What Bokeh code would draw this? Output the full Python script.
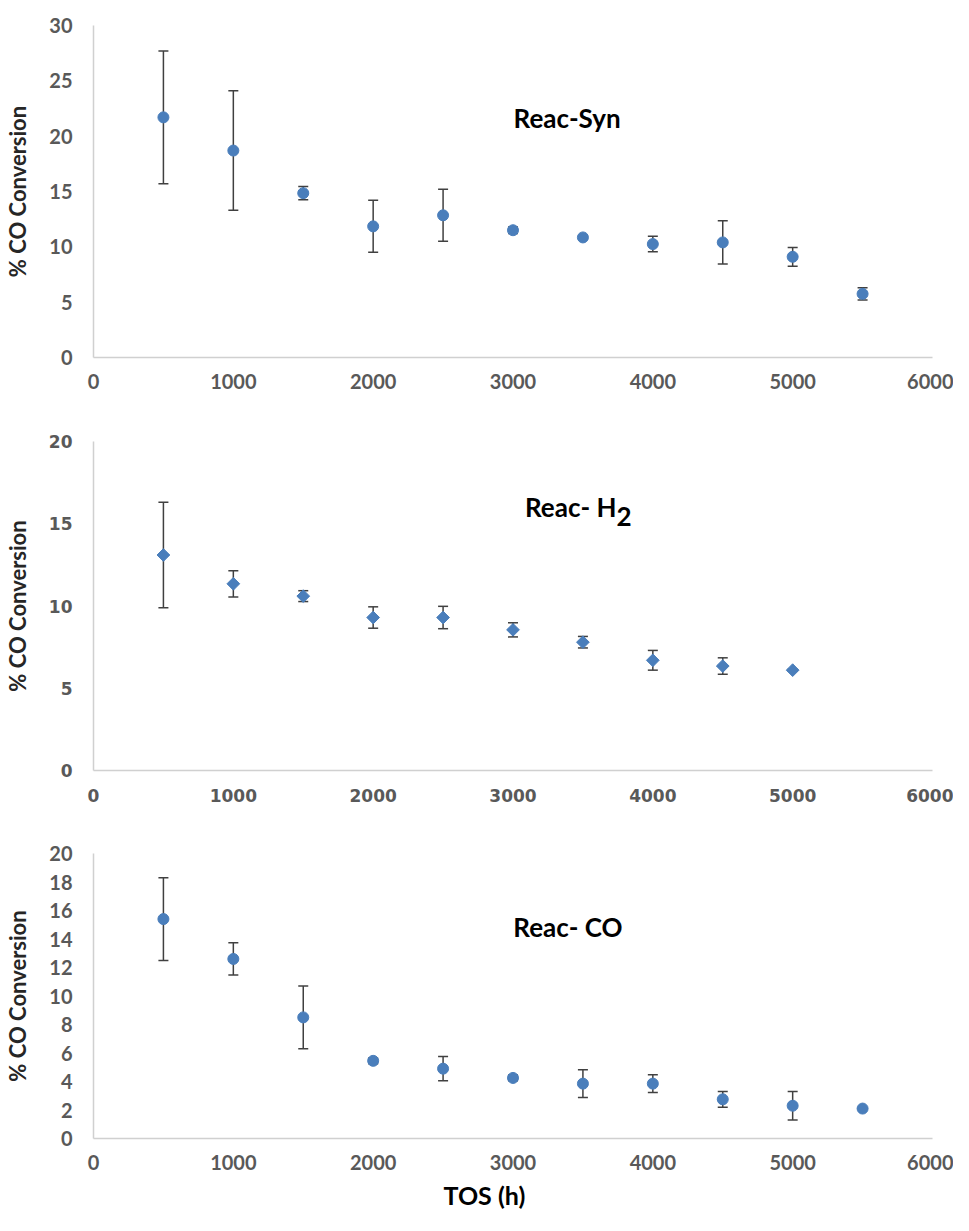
import math
from bokeh.plotting import figure
from bokeh.layouts import column
from bokeh.models import (Range1d, SingleIntervalTicker, Whisker, TeeHead,
                          ColumnDataSource, Label, Title)
from bokeh.embed import file_html
from bokeh.resources import INLINE

# ---------------- data ----------------
tos_syn = [500, 1000, 1500, 2000, 2500, 3000, 3500, 4000, 4500, 5000, 5500]
conv_syn = [21.7, 18.7, 14.85, 11.85, 12.85, 11.5, 10.85, 10.25, 10.4, 9.1, 5.75]
err_syn = [6.0, 5.4, 0.6, 2.35, 2.35, 0.3, 0.1, 0.7, 1.95, 0.85, 0.55]

tos_h2 = [500, 1000, 1500, 2000, 2500, 3000, 3500, 4000, 4500, 5000]
conv_h2 = [13.1, 11.35, 10.6, 9.3, 9.3, 8.55, 7.8, 6.7, 6.35, 6.1]
err_h2 = [3.2, 0.8, 0.33, 0.65, 0.68, 0.43, 0.35, 0.6, 0.5, 0.05]

tos_co = [500, 1000, 1500, 2000, 2500, 3000, 3500, 4000, 4500, 5000, 5500]
conv_co = [15.4, 12.6, 8.5, 5.45, 4.9, 4.25, 3.85, 3.85, 2.75, 2.3, 2.1]
err_co = [2.9, 1.13, 2.2, 0.2, 0.85, 0.2, 0.97, 0.63, 0.55, 1.0, 0.05]

y_label = "% CO Conversion"
x_label = "TOS (h)"

FONT = "Lato"
BLUE = "#4a7ebb"
ERR = "#404040"
TICK = "#595959"
AXIS = "#d0d0d0"


def make_panel(tos, conv, err, ymax, yint, marker, height, top, frame_h, left, right,
               tick_font=FONT, tick_size="20px", x_standoff=16):
    p = figure(width=953, height=height, x_range=Range1d(0, 6000), y_range=Range1d(0, ymax),
               output_backend="svg", toolbar_location=None,
               min_border_left=left, min_border_right=right, min_border_top=top,
               min_border_bottom=height - top - frame_h)
    p.outline_line_color = None
    p.xgrid.visible = False
    p.ygrid.visible = False
    p.xaxis.ticker = SingleIntervalTicker(interval=1000)
    p.yaxis.ticker = SingleIntervalTicker(interval=yint)
    for ax in (p.xaxis[0], p.yaxis[0]):
        ax.axis_line_color = AXIS
        ax.axis_line_width = 1.5
        ax.major_tick_line_color = None
        ax.minor_tick_line_color = None
        ax.major_tick_out = 0
        ax.major_tick_in = 0
        ax.minor_tick_out = 0
        ax.minor_tick_in = 0
        ax.major_label_text_font = tick_font
        ax.major_label_text_font_style = "bold"
        ax.major_label_text_font_size = tick_size
        ax.major_label_text_color = TICK
    p.xaxis.major_label_standoff = x_standoff
    p.yaxis.major_label_standoff = 21
    p.yaxis.axis_label = y_label
    p.yaxis.axis_label_text_font = FONT
    p.yaxis.axis_label_text_font_style = "bold"
    p.yaxis.axis_label_text_font_size = "22px"
    p.yaxis.axis_label_text_color = "#262626"
    p.yaxis.axis_label_standoff = 15

    src = ColumnDataSource(dict(
        x=tos, y=conv,
        upper=[c + e for c, e in zip(conv, err)],
        lower=[c - e for c, e in zip(conv, err)],
    ))
    w = Whisker(base="x", upper="upper", lower="lower", source=src,
                line_color=ERR, line_width=1.5,
                upper_head=TeeHead(size=10, line_color=ERR, line_width=1.5),
                lower_head=TeeHead(size=10, line_color=ERR, line_width=1.5))
    p.add_layout(w)
    if marker == "diamond":
        p.scatter("x", "y", source=src, marker="square", angle=math.pi / 4, size=9,
                  fill_color=BLUE, line_color=BLUE)
    else:
        p.scatter("x", "y", source=src, marker="circle", size=11,
                  fill_color=BLUE, line_color=BLUE)
    return p


def title(p, x, y, text, size="26px"):
    p.add_layout(Label(x=x, y=y, text=text, text_font=FONT, text_font_style="bold",
                       text_font_size=size, text_align="left", text_baseline="middle",
                       text_color="black"))


p1 = make_panel(tos_syn, conv_syn, err_syn, 30, 5, "circle", 418, 25, 332, 93, 21)
title(p1, 3004, 21.6, "Reac-Syn")

p2 = make_panel(tos_h2, conv_h2, err_h2, 20, 5, "diamond", 410, 23, 329, 90, 21,
                tick_font="DejaVu Sans", tick_size="17px", x_standoff=18)
title(p2, 3086, 16.0, "Reac- H")
title(p2, 3740, 15.45, "2")

p3 = make_panel(tos_co, conv_co, err_co, 20, 2, "circle", 387, 25, 289, 93, 21)
title(p3, 3002, 14.83, "Reac- CO")
p3.add_layout(Title(text=x_label, text_font=FONT, text_font_style="bold",
                    text_font_size="25px", text_color="black",
                    align="left", offset=350, standoff=11), "below")

layout = column(p1, p2, p3, spacing=0)
open("out.html", "w").write(file_html(layout, INLINE))
